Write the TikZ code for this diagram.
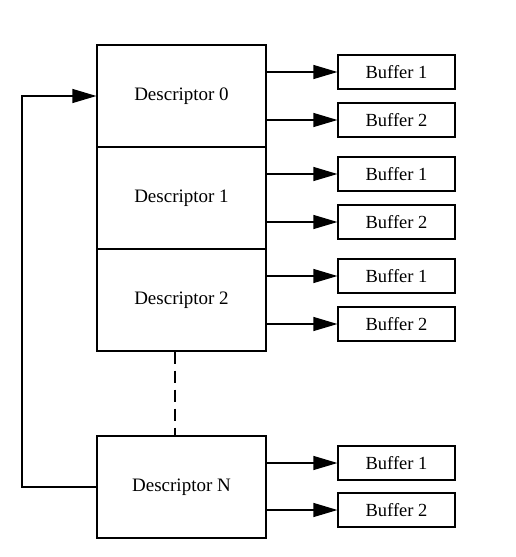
\documentclass[tikz,border=0pt]{standalone}
\usepackage{fontspec}
\setmainfont{Liberation Serif}
\usetikzlibrary{arrows, arrows.meta}
\tikzset{desc/.style = {shape = rectangle, draw, line width = 1.2pt, minimum width = 169pt, minimum height = 102pt, inner sep = 0pt, font = \fontsize{19}{22}\selectfont}}
\tikzset{buffer/.style = {shape = rectangle, draw, line width = 1.2pt, minimum width = 117pt, minimum height = 34pt, inner sep = 0pt, font = \fontsize{18.5}{22}\selectfont}}
\tikzset{edge/.style = {line width = 1.2pt, -{Triangle[length = 24pt, width = 14pt]}}}

\begin{document}
\begin{tikzpicture}[x = 1pt, y = -1pt]
			\useasboundingbox (0, 0) rectangle (515, 557);

			\node[desc] (d0) at (181.5, 96) {Descriptor 0};
			\node[desc] (d1) at (181.5, 198) {Descriptor 1};
			\node[desc] (d2) at (181.5, 300) {Descriptor 2};
			\node[desc] (dn) at (181.5, 487) {Descriptor N};

			\node[buffer] (b01) at (396.5, 72) {Buffer 1};
			\node[buffer] (b02) at (396.5, 120) {Buffer 2};
			\node[buffer] (b11) at (396.5, 174) {Buffer 1};
			\node[buffer] (b12) at (396.5, 222) {Buffer 2};
			\node[buffer] (b21) at (396.5, 276) {Buffer 1};
			\node[buffer] (b22) at (396.5, 324) {Buffer 2};
			\node[buffer] (bn1) at (396.5, 463) {Buffer 1};
			\node[buffer] (bn2) at (396.5, 510) {Buffer 2};

			\draw[edge] (d0.east |- b01) to (b01);
			\draw[edge] (d0.east |- b02) to (b02);
			\draw[edge] (d1.east |- b11) to (b11);
			\draw[edge] (d1.east |- b12) to (b12);
			\draw[edge] (d2.east |- b21) to (b21);
			\draw[edge] (d2.east |- b22) to (b22);
			\draw[edge] (dn.east |- bn1) to (bn1);
			\draw[edge] (dn.east |- bn2) to (bn2);

			% back to the first descriptor
			\coordinate (loop) at (22, 487);
			\draw[edge] (dn.west) -- (loop) |- (d0.west);

			% the descriptors in between
			\coordinate (gap) at (175, 0);
			\draw[line width = 1.2pt, dash pattern = on 12pt off 7pt] (gap |- d2.south) -- (gap |- dn.north);
		\end{tikzpicture}
\end{document}
